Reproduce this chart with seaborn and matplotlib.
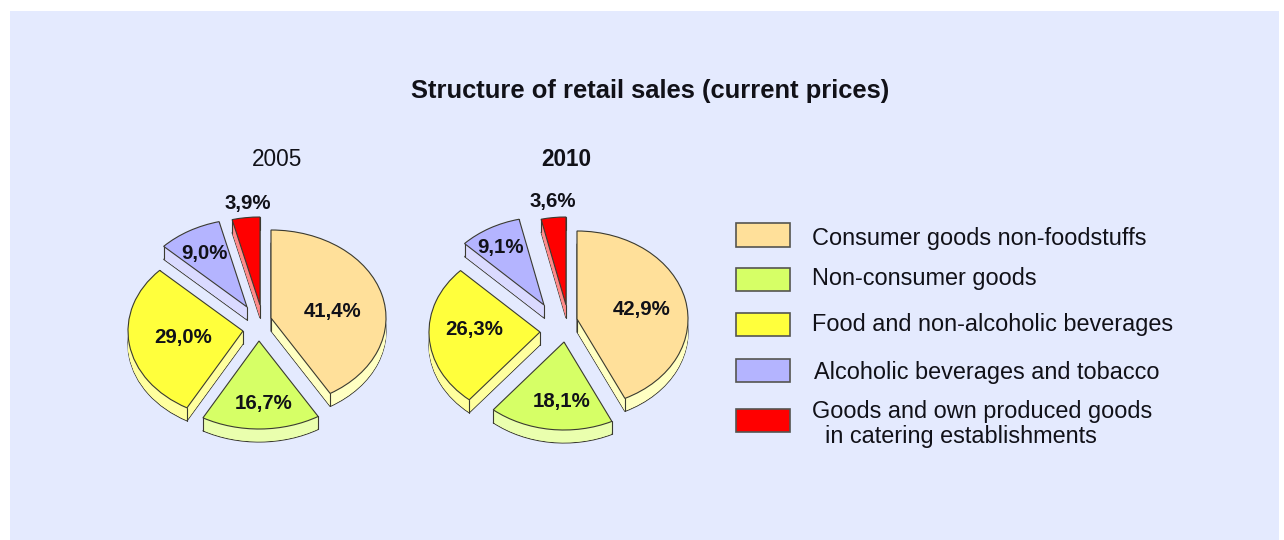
import numpy as np
import matplotlib
matplotlib.use("Agg")
import matplotlib.pyplot as plt
from matplotlib.patches import Rectangle
import seaborn as sns

# Data
categories = [
    "Consumer goods non-foodstuffs",
    "Non-consumer goods",
    "Food and non-alcoholic beverages",
    "Alcoholic beverages and tobacco",
    "Goods and own produced goods\n  in catering establishments",
]
values_2005 = [41.4, 16.7, 29.0, 9.0, 3.9]
values_2010 = [42.9, 18.1, 26.3, 9.1, 3.6]

# Colours
top_colors = ["#FFE09A", "#D6FF66", "#FFFF3C", "#B4B4FF", "#FF0000"]
side_colors = ["#FFFFC2", "#EAFFAE", "#FFFF9E", "#DADAFF", "#FF8A8A"]
bg_color = "#E4EAFE"
ink = "#111118"
edge = "#3A3A30"

# Layout, all in pixels of the 1284x540 figure
W, H = 1284, 540
DEPTH = 13
# how far each slice is pulled away from the pie centre (dx, dy)
pull_2005 = [(13, -6), (1, 17), (-15, 7), (-11, -17), (2, -19)]
pull_2010 = [(14, -3), (1, 20), (-23, 10), (-19, -17), (3, -17)]
label_pos_2005 = [(333, 311), (264, 404), (183, 338), (204, 253), (248, 204)]
label_pos_2010 = [(642, 309), (562, 402), (474, 330), (501, 247), (553, 201)]
legend_y = [235, 279, 324, 370, 420]
legend_text_pos = [(812, 238), (812, 279), (812, 325), (814, 372), (812, 424)]

sns.set_theme(style="white")
plt.rcParams["font.family"] = ["Liberation Sans", "DejaVu Sans"]

fig = plt.figure(figsize=(W / 100, H / 100), dpi=100, facecolor="white")


def fx(px):
    return px / W


def fy(py):
    return 1 - py / H


fig.patches.append(Rectangle((fx(10), fy(540)), fx(1269), fy(11) - fy(540),
                             transform=fig.transFigure, facecolor=bg_color,
                             edgecolor="none", zorder=-5))


def draw_pie(values, pulls, cx, cy, rx, ry):
    # one unit of data = one radius, the axes stretch the circle to an ellipse
    ax = fig.add_axes([fx(cx - 1.5 * rx), fy(cy + 1.5 * ry), 3 * rx / W, 3 * ry / H])
    ax.patch.set_alpha(0)

    def layer(colors, drop, **props):
        wedges, _ = ax.pie(values, colors=colors, startangle=90, counterclock=False,
                           wedgeprops=props)
        for w, (dx, dy) in zip(wedges, pulls):
            w.set_center((dx / rx, -(dy + drop) / ry))
        return wedges

    # side of the slices: outlined bottom, then stacked layers up to the top
    bottom = layer(side_colors, DEPTH, edgecolor=edge, linewidth=0.8, zorder=1)
    for drop in np.arange(DEPTH - 0.5, 0, -0.5):
        layer(side_colors, drop, edgecolor="none", linewidth=0, zorder=1.5)

    # vertical edges at the corners, the top face hides those that are behind it
    for w in bottom:
        x0, y0 = w.center
        corners = [(x0, y0)]
        for a in (w.theta1, w.theta2):
            corners.append((x0 + np.cos(np.radians(a)), y0 + np.sin(np.radians(a))))
        for x, y in corners:
            ax.plot([x, x], [y, y + DEPTH / ry], color=edge, linewidth=0.8, zorder=2)

    layer(top_colors, 0, edgecolor=edge, linewidth=0.8, zorder=3)
    ax.set_xlim(-1.5, 1.5)
    ax.set_ylim(-1.5, 1.5)
    ax.set_aspect("auto")
    ax.axis("off")


draw_pie(values_2005, pull_2005, 258, 324, 115, 88)
draw_pie(values_2010, pull_2010, 563, 322, 111, 88)


def pct(v):
    return f"{v:.1f}%".replace(".", ",")


for vals, positions in [(values_2005, label_pos_2005), (values_2010, label_pos_2010)]:
    for v, (x, y) in zip(vals, positions):
        fig.text(fx(x), fy(y), pct(v), ha="center", va="center", fontsize=14.7,
                 fontweight="bold", color=ink)

fig.text(fx(650), fy(91), "Structure of retail sales (current prices)", ha="center",
         va="center", fontsize=18.4, fontweight="bold", color=ink)
fig.text(fx(277), fy(160), "2005", ha="center", va="center", fontsize=16.3, color=ink)
fig.text(fx(566), fy(160), "2010", ha="center", va="center", fontsize=16.3,
         fontweight="bold", color=ink)

# Legend
for color, y, label, (tx, ty) in zip(top_colors, legend_y, categories, legend_text_pos):
    fig.patches.append(Rectangle((fx(736), fy(y + 11.5)), 54 / W, 23 / H,
                                 transform=fig.transFigure, facecolor=color,
                                 edgecolor="#555550", linewidth=1.2))
    fig.text(fx(tx), fy(ty), label, ha="left", va="center", fontsize=16.9,
             linespacing=1.07, color=ink)

fig.savefig("out.png", dpi=100)
